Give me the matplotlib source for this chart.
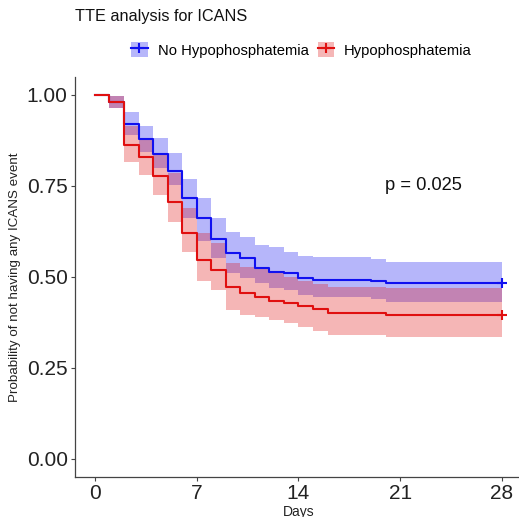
import matplotlib
matplotlib.use("Agg")
import matplotlib.pyplot as plt
from matplotlib.patches import Patch
from matplotlib.lines import Line2D

plt.rcParams['font.family'] = ['Liberation Sans', 'DejaVu Sans']

# ---- data ----
groups = ["No Hypophosphatemia", "Hypophosphatemia"]
colors = ["#1010F0", "#E01010"]

times_blue = [0, 1, 2, 3, 4, 5, 6, 7, 8, 9, 10, 11, 12, 13, 14, 15, 19, 20, 28]
surv_blue = [1.0, 0.982, 0.920, 0.880, 0.838, 0.792, 0.716, 0.662, 0.605, 0.565,
             0.551, 0.526, 0.515, 0.510, 0.497, 0.493, 0.489, 0.484, 0.484]
lower_blue = [1.0, 0.965, 0.890, 0.844, 0.800, 0.753, 0.661, 0.600, 0.551, 0.510,
              0.496, 0.483, 0.469, 0.464, 0.450, 0.445, 0.440, 0.432, 0.432]
upper_blue = [1.0, 0.997, 0.952, 0.916, 0.881, 0.840, 0.768, 0.716, 0.661, 0.624,
              0.611, 0.588, 0.583, 0.570, 0.558, 0.556, 0.549, 0.542, 0.542]

times_red = [0, 1, 2, 3, 4, 5, 6, 7, 8, 9, 10, 11, 12, 13, 14, 15, 16, 20, 28]
surv_red = [1.0, 0.982, 0.862, 0.830, 0.778, 0.707, 0.620, 0.547, 0.519, 0.472,
            0.457, 0.446, 0.435, 0.428, 0.420, 0.411, 0.401, 0.396, 0.396]
lower_red = [1.0, 0.965, 0.817, 0.780, 0.725, 0.652, 0.570, 0.490, 0.464, 0.409,
             0.396, 0.391, 0.382, 0.373, 0.362, 0.352, 0.340, 0.336, 0.336]
upper_red = [1.0, 0.997, 0.915, 0.876, 0.838, 0.785, 0.689, 0.620, 0.593, 0.538,
             0.528, 0.524, 0.515, 0.501, 0.490, 0.482, 0.472, 0.469, 0.469]

x_ticks = [0, 7, 14, 21, 28]
y_ticks = [0.00, 0.25, 0.50, 0.75, 1.00]
y_tick_labels = ["0.00", "0.25", "0.50", "0.75", "1.00"]
title = "TTE analysis for ICANS"
pval_text = "p = 0.025"
pval_pos = (22.6, 0.75)

# ---- figure ----
fig = plt.figure(figsize=(5.19, 5.17), dpi=100)
ax = fig.add_axes([0.1437, 0.077, 0.8628, 0.7745])

series = [
    (times_blue, surv_blue, lower_blue, upper_blue),
    (times_red, surv_red, lower_red, upper_red),
]
for (t, s, lo, up), c in zip(series, colors):
    ax.fill_between(t, lo, up, step='post', color=c, alpha=0.3, linewidth=0)
for (t, s, lo, up), c in zip(series, colors):
    ax.step(t, s, where='post', color=c, lw=1.5)
    ax.plot([t[-1]], [s[-1]], marker='+', color=c, markersize=7, mew=1.5)

ax.set_xlim(-1.4, 29.4)
ax.set_ylim(-0.05, 1.05)
ax.set_xticks(x_ticks)
ax.set_xticklabels([str(v) for v in x_ticks])
ax.set_yticks(y_ticks)
ax.set_yticklabels(y_tick_labels)

for side in ['top', 'right']:
    ax.spines[side].set_visible(False)
for side in ['left', 'bottom']:
    ax.spines[side].set_color('#444444')
    ax.spines[side].set_linewidth(0.9)
ax.tick_params(axis='both', length=3, width=0.8, color='#444444',
               labelsize=15, labelcolor='#222222', pad=2)

ax.set_xlabel("Days", fontsize=10, color='#222222', labelpad=1)
ax.set_ylabel("Probability of not having any ICANS event", fontsize=9.6,
              color='#222222', labelpad=4)

ax.text(pval_pos[0], pval_pos[1], pval_text, fontsize=13.2, ha='center',
        va='center', color='#111111')

fig.text(0.144, 1 - 17 / 517, title, fontsize=11.7, ha='left', va='center',
         color='#111111')

handles = []
for c in colors:
    handles.append((Patch(facecolor=c, alpha=0.3, edgecolor='none'),
                    Line2D([], [], color=c, lw=1.5, marker='+', markersize=7, mew=1.5)))
fig.legend(handles, groups, loc='center', bbox_to_anchor=(0.581, 1 - 50 / 517),
           ncol=2, frameon=False, fontsize=10.6, handlelength=1.1,
           handleheight=1.1, handletextpad=0.7, columnspacing=0.6)

fig.savefig("out.png", dpi=100)
